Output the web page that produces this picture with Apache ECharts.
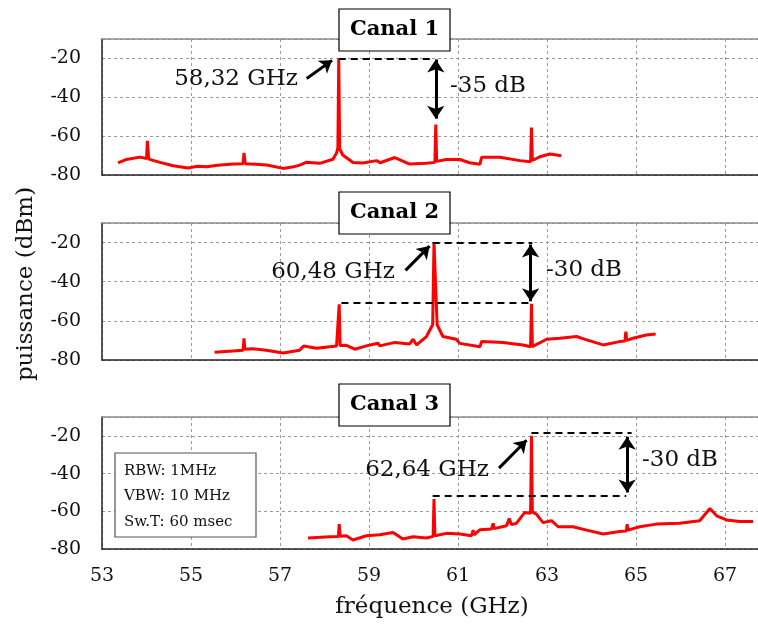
<!DOCTYPE html>
<html><head><meta charset="utf-8">
<script src="https://cdn.jsdelivr.net/npm/echarts@6/dist/echarts.min.js"></script>
<style>html,body{margin:0;padding:0;background:#fff}#c{width:758px;height:624px}</style>
</head><body><div id="c"></div>
<script>
// ---- data ----
const xTickValues = [53, 55, 57, 59, 61, 63, 65, 67];
const yTickValues = [-80, -60, -40, -20];
const panelTitles = ['Canal 1', 'Canal 2', 'Canal 3'];

const freq1 = [53.36,53.55,53.85,54.0,54.02,54.05,54.3,54.6,54.93,55.15,55.35,55.6,55.95,56.17,56.19,56.22,56.45,56.7,57.07,57.3,57.44,57.6,57.89,58.19,58.27,58.30,58.32,58.34,58.41,58.64,58.86,59.17,59.25,59.58,59.91,60.29,60.48,60.50,60.52,60.74,61.04,61.26,61.49,61.53,61.94,62.39,62.63,62.65,62.67,62.84,63.06,63.32];
const pow1  = [-73.8,-72.0,-70.8,-71.5,-62.4,-71.8,-73.5,-75.2,-76.4,-75.5,-75.8,-75.0,-74.4,-74.2,-68.6,-74.2,-74.5,-74.9,-76.6,-75.8,-74.9,-73.4,-74.0,-71.9,-68.7,-66.0,-20.0,-66.5,-69.7,-73.6,-73.8,-72.6,-73.7,-71.0,-74.4,-74.0,-73.5,-54.0,-73.0,-72.0,-72.0,-73.7,-74.5,-70.9,-70.9,-72.6,-73.2,-55.6,-72.5,-70.6,-69.2,-70.1];

const freq2 = [55.53,55.94,56.17,56.19,56.21,56.39,56.69,57.07,57.44,57.53,57.82,58.27,58.31,58.33,58.35,58.49,58.68,58.94,59.2,59.24,59.58,59.91,59.99,60.07,60.29,60.43,60.46,60.53,60.66,60.96,61.04,61.49,61.53,62.01,62.46,62.63,62.65,62.67,62.99,63.29,63.66,63.89,64.26,64.63,64.75,64.77,64.79,64.93,65.23,65.44];
const pow2  = [-76.0,-75.4,-75.0,-68.9,-74.5,-74.3,-75.0,-76.4,-75.0,-72.8,-74.0,-72.8,-72.8,-51.5,-72.6,-72.5,-74.5,-72.8,-71.4,-72.8,-71.0,-71.8,-69.4,-72.3,-68.0,-62.0,-20.0,-62.0,-68.0,-69.4,-71.5,-73.2,-70.6,-71.1,-72.3,-73.2,-51.3,-73.2,-69.4,-68.9,-68.0,-69.7,-72.3,-70.6,-70.3,-65.5,-70.0,-68.9,-67.2,-66.7];

const freq3 = [57.63,58.12,58.31,58.33,58.35,58.49,58.64,58.94,59.24,59.54,59.76,59.99,60.29,60.44,60.46,60.48,60.74,61.04,61.3,61.34,61.36,61.49,61.75,61.79,61.81,62.09,62.15,62.2,62.31,62.5,62.63,62.65,62.67,62.76,62.91,63.1,63.25,63.58,63.89,64.26,64.63,64.78,64.8,64.82,65.08,65.46,65.98,66.43,66.66,66.81,67.03,67.33,67.63];
const pow3  = [-74.2,-73.5,-73.4,-66.8,-73.2,-73.0,-75.2,-73.0,-72.4,-71.2,-74.7,-73.5,-74.2,-73.3,-53.5,-73.0,-71.7,-72.0,-73.0,-70.0,-72.5,-69.8,-69.4,-66.4,-69.2,-67.7,-63.8,-67.0,-66.4,-60.6,-61.0,-20.0,-60.5,-61.5,-66.0,-65.0,-68.2,-68.2,-70.0,-72.0,-70.7,-70.5,-66.8,-70.0,-68.2,-66.8,-66.4,-65.0,-58.5,-62.4,-64.6,-65.4,-65.4];

// annotation geometry in data coordinates [f, dBm]
const dashLines = [
  [[[58.32,-20],[60.37,-20]]],
  [[[60.43,-20],[62.67,-20]], [[58.38,-50.9],[62.61,-50.9]]],
  [[[62.65,-18.6],[64.9,-18.6]], [[60.43,-51.8],[64.78,-51.8]]]
];
const doubleArrows = [
  [[60.5,-20.5],[60.5,-51]],
  [[62.63,-21],[62.63,-50]],
  [[64.8,-20.5],[64.8,-50]]
];
const pointerArrows = [
  [[57.6,-30.3],[58.17,-21]],
  [[59.82,-34.2],[60.36,-21.8]],
  [[61.92,-37.1],[62.54,-22.3]]
];
const peakLabels = ['58,32 GHz', '60,48 GHz', '62,64 GHz'];
const deltaLabels = ['-35 dB', '-30 dB', '-30 dB'];
const infoLines = ['RBW: 1MHz', 'VBW: 10 MHz', 'Sw.T: 60 msec'];

// ---- layout ----
const FONT = 'DejaVu Serif';
const grids = [
  {left: 102, width: 656, top: 39, height: 136},
  {left: 102, width: 656, top: 223, height: 137},
  {left: 102, width: 656, top: 417, height: 132}
];
const X_MIN = 53, X_MAX = 67.74;

const option = {
  animation: false,
  backgroundColor: '#fff',
  grid: grids.map(g => Object.assign({containLabel: false, outerBoundsMode: 'none'}, g)),
  xAxis: [],
  yAxis: [],
  series: [],
  graphic: []
};

const freqs = [freq1, freq2, freq3];
const pows = [pow1, pow2, pow3];

for (let i = 0; i < 3; i++) {
  option.xAxis.push({
    type: 'value', gridIndex: i, min: X_MIN, max: X_MAX, interval: 2,
    position: 'bottom',
    axisLine: {show: true, onZero: false, lineStyle: {color: '#222', width: 1.5}},
    axisTick: {show: false},
    axisLabel: {show: i === 2, showMaxLabel: false, color: '#111', fontFamily: FONT, fontSize: 19, margin: 18,
      formatter: v => xTickValues.includes(v) ? String(v) : ''},
    splitLine: {show: true, lineStyle: {color: '#9a9a9a', type: [3, 3], width: 1}}
  });
  option.xAxis.push({
    type: 'value', gridIndex: i, min: X_MIN, max: X_MAX, position: 'top',
    axisLine: {show: true, onZero: false, lineStyle: {color: '#8c8c8c', width: 1.5}},
    axisTick: {show: false}, axisLabel: {show: false}, splitLine: {show: false}
  });
  option.yAxis.push({
    type: 'value', gridIndex: i, min: -80, max: -10, interval: 20,
    axisLine: {show: true, onZero: false, lineStyle: {color: '#222', width: 1.5}},
    axisTick: {show: false},
    axisLabel: {showMaxLabel: false, color: '#111', fontFamily: FONT, fontSize: 19, margin: 21,
      formatter: v => yTickValues.includes(v) ? String(v) : ''},
    splitLine: {show: true, lineStyle: {color: '#9a9a9a', type: [3, 3], width: 1}}
  });

  const ml = [];
  dashLines[i].forEach(seg => {
    ml.push([{coord: seg[0], symbol: 'none', lineStyle: {type: [7, 5], width: 2, color: '#000'}},
             {coord: seg[1], symbol: 'none'}]);
  });
  const da = doubleArrows[i];
  ml.push([{coord: da[0], symbol: 'arrow', symbolSize: [13, 13], lineStyle: {type: 'solid', width: 3, color: '#000'}},
           {coord: da[1], symbol: 'arrow', symbolSize: [13, 13]}]);
  const pa = pointerArrows[i];
  ml.push([{coord: pa[0], symbol: 'none', lineStyle: {type: 'solid', width: 3, color: '#000'}},
           {coord: pa[1], symbol: 'arrow', symbolSize: [12, 12]}]);

  option.series.push({
    type: 'line', xAxisIndex: i * 2, yAxisIndex: i,
    data: freqs[i].map((f, k) => [f, pows[i][k]]),
    showSymbol: false, symbol: 'none',
    lineStyle: {color: '#ff0000', width: 3},
    z: 3,
    markLine: {silent: true, animation: false, symbol: 'none', label: {show: false},
      emphasis: {disabled: true}, data: ml, z: 5}
  });
}

// text annotations
const peakPos = [[236, 79], [333, 272], [427, 470]];
const deltaPos = [[488, 86], [584, 270], [680, 460]];
const boxY = [9, 192, 384];
const g = option.graphic;
for (let i = 0; i < 3; i++) {
  g.push({type: 'text', x: peakPos[i][0], y: peakPos[i][1], z: 20,
    style: {text: peakLabels[i], font: '23px "' + FONT + '"', fill: '#111', align: 'center', verticalAlign: 'middle'}});
  g.push({type: 'text', x: deltaPos[i][0], y: deltaPos[i][1], z: 20,
    style: {text: deltaLabels[i], font: '23px "' + FONT + '"', fill: '#111', align: 'center', verticalAlign: 'middle'}});
  g.push({type: 'rect', x: 339, y: boxY[i], z: 20, shape: {width: 111, height: 42},
    style: {fill: '#fff', stroke: '#000', lineWidth: 1.2}});
  g.push({type: 'text', x: 394.5, y: boxY[i] + 21, z: 21,
    style: {text: panelTitles[i], font: 'bold 21px "' + FONT + '"', fill: '#000', align: 'center', verticalAlign: 'middle'}});
}

// info box
g.push({type: 'rect', x: 115, y: 453, z: 20, shape: {width: 141, height: 84},
  style: {fill: '#fff', stroke: '#555', lineWidth: 1.2}});
infoLines.forEach((t, k) => {
  g.push({type: 'text', x: 124, y: 471 + k * 25.5, z: 21,
    style: {text: t, font: '15px "' + FONT + '"', fill: '#111', align: 'left', verticalAlign: 'middle'}});
});
// axis names
g.push({type: 'text', x: 432, y: 607, z: 20,
  style: {text: 'fréquence (GHz)', font: '23px "' + FONT + '"', fill: '#111', align: 'center', verticalAlign: 'middle'}});
g.push({type: 'text', x: 26, y: 284, rotation: Math.PI / 2, z: 20,
  style: {text: 'puissance (dBm)', font: '23px "' + FONT + '"', fill: '#111', align: 'center', verticalAlign: 'middle'}});

const chart = echarts.init(document.getElementById('c'), null, {renderer: 'canvas'});
chart.setOption(option);
</script>
</body></html>
